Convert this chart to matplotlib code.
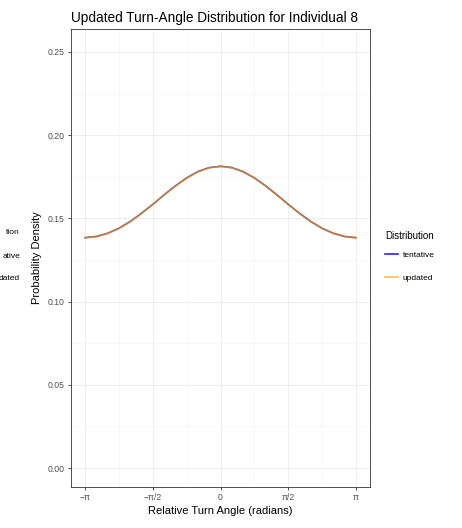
import matplotlib
matplotlib.use("Agg")
import matplotlib.pyplot as plt
import numpy as np
from matplotlib.lines import Line2D

plt.rcParams["font.family"] = ["Liberation Sans", "DejaVu Sans"]

# turn angle in twelfths of pi, from -pi to pi
angle_steps = list(range(-12, 13))
tentative = [0.1384, 0.1391, 0.1410, 0.1440, 0.1481, 0.1530, 0.1584, 0.1641, 0.1695,
             0.1743, 0.1781, 0.1805, 0.1813, 0.1805, 0.1781, 0.1743, 0.1695, 0.1641,
             0.1584, 0.1530, 0.1481, 0.1440, 0.1410, 0.1391, 0.1384]
updated = [0.1383, 0.1390, 0.1409, 0.1439, 0.1480, 0.1529, 0.1583, 0.1640, 0.1694,
           0.1742, 0.1780, 0.1804, 0.1812, 0.1804, 0.1780, 0.1742, 0.1694, 0.1640,
           0.1583, 0.1529, 0.1480, 0.1439, 0.1409, 0.1390, 0.1383]
x_tick_labels = ["−π", "−π/2", "0", "π/2", "π"]
y_ticks = [0.00, 0.05, 0.10, 0.15, 0.20, 0.25]

theta = np.array(angle_steps) * np.pi / 12

fig = plt.figure(figsize=(4.62, 5.28), dpi=100)
ax = fig.add_axes([0.1537, 0.0777, 0.6472, 0.8674])

ax.plot(theta, tentative, color="#2b2bd0", lw=1.2, zorder=3)
ax.plot(theta, updated, color="orange", lw=1.2, alpha=0.7, zorder=4)

ax.set_xlim(-3.466, 3.466)
ax.set_ylim(-0.0114, 0.2638)
ax.set_xticks([-np.pi, -np.pi / 2, 0, np.pi / 2, np.pi])
ax.set_xticklabels(x_tick_labels)
ax.set_yticks(y_ticks)
ax.set_yticklabels([f"{v:.2f}" for v in y_ticks])
ax.set_xticks([-3 * np.pi / 4, -np.pi / 4, np.pi / 4, 3 * np.pi / 4], minor=True)
ax.set_yticks([0.025, 0.075, 0.125, 0.175, 0.225], minor=True)

ax.grid(True, which="major", color="#ebebeb", lw=0.6)
ax.grid(True, which="minor", color="#f4f4f4", lw=0.4)
ax.set_axisbelow(True)
ax.tick_params(which="major", length=2.5, width=0.6, color="#333333",
               labelsize=6.2, labelcolor="#4d4d4d", pad=2)
ax.tick_params(which="minor", length=0)
for s in ax.spines.values():
    s.set_color("#333333")
    s.set_linewidth(0.6)

ax.set_xlabel("Relative Turn Angle (radians)", fontsize=8, labelpad=3)
ax.set_ylabel("Probability Density", fontsize=8, labelpad=4)
ax.set_title("Updated Turn-Angle Distribution for Individual 8", fontsize=9.8,
             loc="left", pad=5)

handles = [Line2D([], [], color="#2b2bd0", lw=1.2),
           Line2D([], [], color="orange", lw=1.2, alpha=0.7)]
leg = fig.legend(handles, ["tentative", "updated"], title="Distribution",
                 loc="upper left", bbox_to_anchor=(0.818, 0.576), frameon=False,
                 fontsize=6, title_fontsize=7, handlelength=1.5,
                 labelspacing=1.8, handletextpad=0.6)
leg._legend_box.align = "left"
leg._legend_box.sep = 7

# legend of a neighbouring panel, partly off the left edge
for txt, y in [("tion", 233), ("ative", 256), ("dated", 279)]:
    fig.text(20 / 462, 1 - y / 528, txt, ha="right", va="center", fontsize=6)

fig.savefig("out.png", dpi=100)
